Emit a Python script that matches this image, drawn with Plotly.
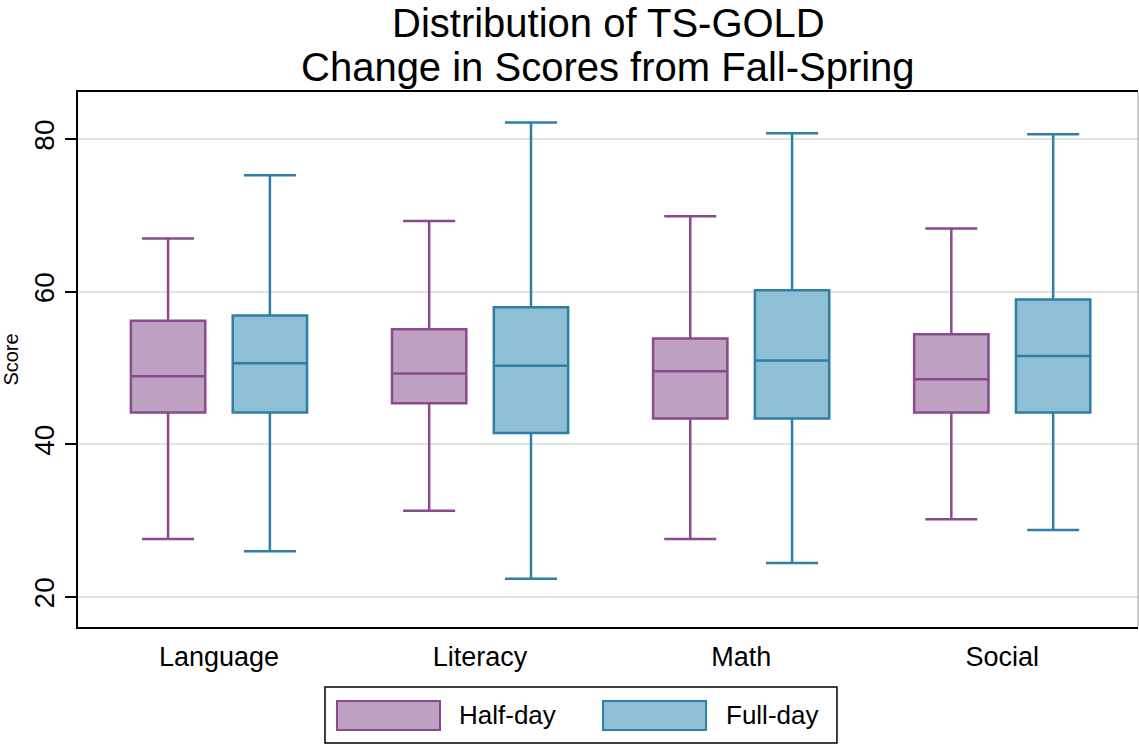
import plotly.graph_objects as go

categories = ["Language", "Literacy", "Math", "Social"]
series_names = ["Half-day", "Full-day"]

half_low = [27.6, 31.3, 27.6, 30.2]
half_q1 = [44.2, 45.4, 43.4, 44.2]
half_med = [48.95, 49.3, 49.6, 48.55]
half_q3 = [56.2, 55.1, 53.9, 54.45]
half_high = [67.0, 69.3, 69.9, 68.3]

full_low = [26.0, 22.4, 24.45, 28.8]
full_q1 = [44.2, 41.5, 43.4, 44.2]
full_med = [50.65, 50.3, 51.0, 51.6]
full_q3 = [56.9, 58.0, 60.2, 59.0]
full_high = [75.3, 82.2, 80.8, 80.65]

y_ticks = [20, 40, 60, 80]
title_lines = ["Distribution of TS-GOLD", "Change in Scores from Fall-Spring"]

line_colors = ["#8a4a8d", "#2f7ea6"]
fill_colors = ["#bfa2c3", "#8fbfd4"]

FONT = "Liberation Sans, Arial, Helvetica, sans-serif"

fig = go.Figure()
data = [
    (half_low, half_q1, half_med, half_q3, half_high),
    (full_low, full_q1, full_med, full_q3, full_high),
]
for i, (lo, q1, med, q3, hi) in enumerate(data):
    fig.add_trace(go.Box(
        x=categories, q1=q1, median=med, q3=q3,
        lowerfence=lo, upperfence=hi,
        name=series_names[i],
        fillcolor=fill_colors[i],
        line=dict(color=line_colors[i], width=2.5),
        whiskerwidth=0.7,
        boxpoints=False,
        showlegend=False,
    ))

fig.update_layout(
    width=1139, height=745,
    margin=dict(l=78, r=1, t=92, b=118),
    paper_bgcolor="white", plot_bgcolor="white",
    boxmode="group", boxgap=0.22, boxgroupgap=0.27,
    font=dict(family=FONT, color="black"),
    xaxis=dict(
        type="category", range=[-0.54, 3.52],
        showline=True, linecolor="black", linewidth=2, mirror=True,
        showgrid=False, ticks="", tickfont=dict(size=27, family=FONT),
        ticklabelstandoff=5,
    ),
    yaxis=dict(
        range=[16.07, 86.2], tickvals=y_ticks,
        showline=True, linecolor="black", linewidth=2,
        ticks="outside", ticklen=11, tickwidth=2, tickcolor="black",
        tickangle=-90, tickfont=dict(size=28, family=FONT),
        showgrid=True, gridcolor="#e2e2e2", gridwidth=2,
        zeroline=False,
        title=dict(text="Score", font=dict(size=20, family=FONT), standoff=6),
    ),
)

# title (two lines, tight spacing)
title_px = [22.5, 67.5]
for t, py in zip(title_lines, title_px):
    fig.add_annotation(xref="paper", yref="paper", x=0.5, y=(627 - py) / 535, text=t,
                       showarrow=False, xanchor="center", yanchor="middle",
                       font=dict(size=40, family=FONT, color="black"))

# right border (thin gray)
fig.add_shape(type="line", xref="paper", yref="paper", x0=1, x1=1, y0=0, y1=1,
              line=dict(color="#9a9a9a", width=1))

# custom legend
fig.add_shape(type="rect", xref="paper", yref="paper",
              x0=0.233, x1=0.716, y0=-0.217, y1=-0.112,
              line=dict(color="black", width=1.5), fillcolor="white")
sw_x0 = [0.2443, 0.4953]
txt_x = [0.3575, 0.6094]
for i in range(2):
    fig.add_shape(type="rect", xref="paper", yref="paper",
                  x0=sw_x0[i], x1=sw_x0[i] + 0.0972, y0=-0.1925, y1=-0.1383,
                  line=dict(color=line_colors[i], width=2), fillcolor=fill_colors[i])
    fig.add_annotation(xref="paper", yref="paper", x=txt_x[i], y=-0.1654,
                       text=series_names[i], showarrow=False,
                       xanchor="left", yanchor="middle",
                       font=dict(size=26, family=FONT, color="black"))

fig.write_html("out.html", config={"displayModeBar": False},
               post_script="document.body.style.margin='0';")
